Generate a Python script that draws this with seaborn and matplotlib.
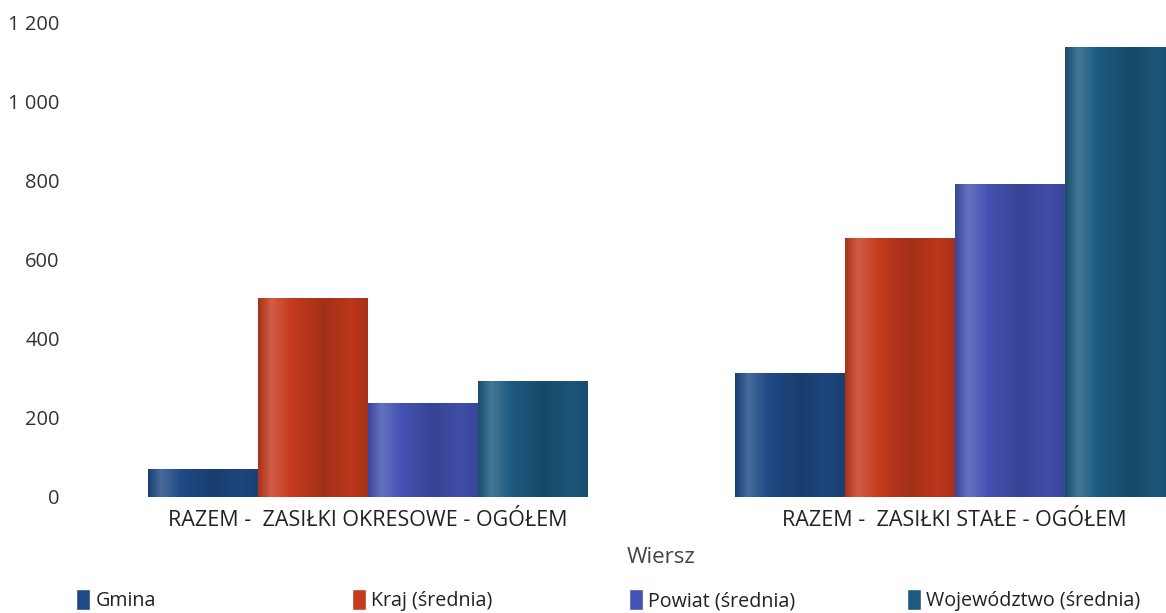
import numpy as np
import pandas as pd
import seaborn as sns
import matplotlib.pyplot as plt
from matplotlib.colors import to_rgb, LinearSegmentedColormap
from matplotlib.patches import Patch
from matplotlib.ticker import FuncFormatter

wiersze = ["RAZEM -  ZASIŁKI OKRESOWE - OGÓŁEM", "RAZEM -  ZASIŁKI STAŁE - OGÓŁEM"]
serie = ["Gmina", "Kraj (średnia)", "Powiat (średnia)", "Województwo (średnia)"]
gmina = [71, 313]
kraj = [502, 654]
powiat = [238, 790]
wojewodztwo = [293, 1136]
kolory = ["#1f4a85", "#c63a1d", "#4352b3", "#1c5a80"]

df = pd.DataFrame({
    "Wiersz": wiersze * 4,
    "Seria": np.repeat(serie, 2),
    "Wartosc": gmina + kraj + powiat + wojewodztwo,
})

sns.set_style("white")
plt.rcParams["font.family"] = ["Open Sans", "DejaVu Sans"]

fig = plt.figure(figsize=(11.66, 6.13), dpi=100)
ax = fig.add_axes([75 / 1166, 116 / 613, 1173 / 1166, 475 / 613])

sns.barplot(data=df, x="Wiersz", y="Wartosc", hue="Seria", hue_order=serie,
            palette=kolory, width=0.75, ax=ax, legend=False, linewidth=0)


# cylinder-like shading across each bar
def shade(c):
    r = np.array(to_rgb(c))
    pos = [0, 0.12, 0.3, 0.6, 0.85, 1]
    fac = [0.85, 1.18, 1.0, 0.82, 0.95, 0.85]
    cols = []
    for f in fac:
        if f >= 1:
            cols.append(r + (1 - r) * (f - 1))
        else:
            cols.append(r * f)
    return LinearSegmentedColormap.from_list("s", list(zip(pos, cols)))


grad = np.linspace(0, 1, 256).reshape(1, -1)
for i, bars in enumerate(ax.containers):
    cmap = shade(kolory[i])
    for p in bars:
        x0, y0 = p.get_x(), p.get_y()
        w, h = p.get_width(), p.get_height()
        im = ax.imshow(grad, cmap=cmap, aspect="auto", extent=[x0, x0 + w, y0, y0 + h],
                       zorder=p.get_zorder() + 0.1)
        im.set_clip_path(p)

ax.set_xlim(-0.5, 1.5)
ax.set_ylim(0, 1200)
ax.set_yticks(range(0, 1201, 200))
ax.yaxis.set_major_formatter(FuncFormatter(lambda v, _: f"{int(v):,}".replace(",", " ")))
sns.despine(ax=ax, left=True, bottom=True)
ax.tick_params(axis="y", length=0, pad=11, labelsize=14.5, labelcolor="#333333")
ax.tick_params(axis="x", length=0, pad=9, labelsize=15.5, labelcolor="#222222")
ax.set_ylabel("")
ax.set_xlabel("Wiersz", fontsize=16, color="#444444", labelpad=12)

xs = [72, 348, 625, 903]
for k in range(4):
    fig.legend(handles=[Patch(facecolor=kolory[k], label=serie[k])],
               loc="center left", bbox_to_anchor=(xs[k] / 1166 - 0.012, 13 / 613),
               frameon=False, fontsize=14.2, handlelength=0.7, handleheight=1.25,
               handletextpad=0.3, labelcolor="#222222")

fig.savefig("out.png", dpi=100)
